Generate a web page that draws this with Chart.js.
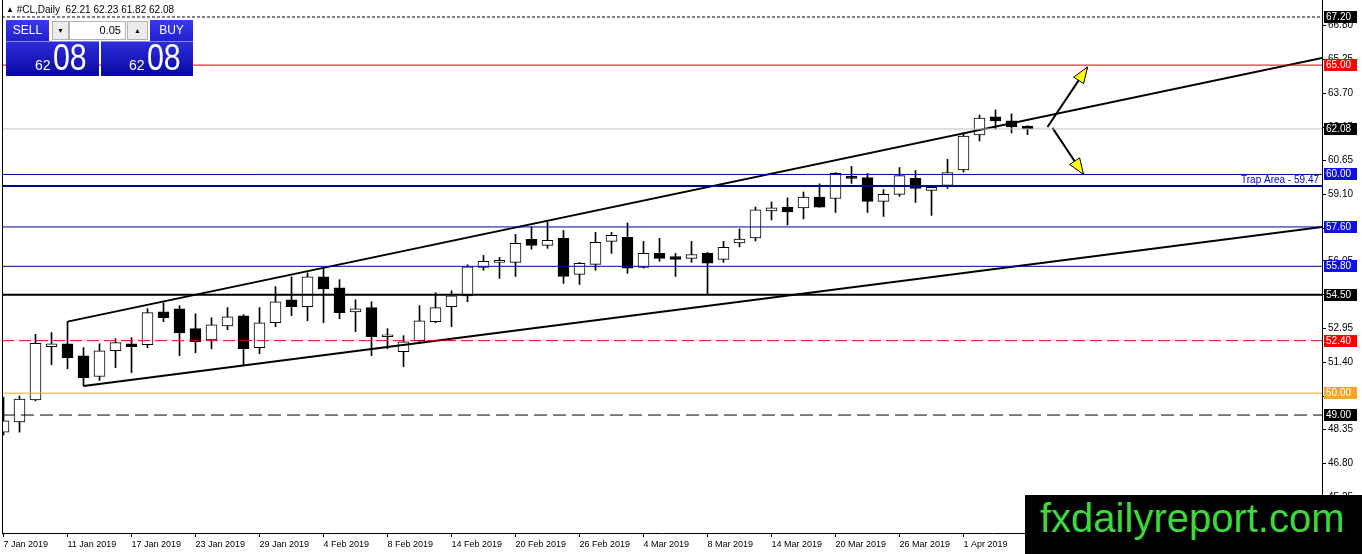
<!DOCTYPE html>
<html>
<head>
<meta charset="utf-8">
<script src="https://cdn.jsdelivr.net/npm/chart.js@4.4.1/dist/chart.umd.min.js"></script>
<style>
html, body { margin: 0; padding: 0; background: #fff; }
#wrap { position: relative; width: 1362px; height: 554px; overflow: hidden; font-family: "Liberation Sans", Arial, sans-serif; }
#chart { position: absolute; left: 0; top: 0; }
#title { position: absolute; left: 6px; top: 4px; font-size: 10px; color: #000; white-space: pre; }
#title span { font-size: 8px; vertical-align: 1px; }
.top { position: absolute; top: 20px; height: 21px; width: 43px; background: linear-gradient(#3a3aec, #2020d0); color: #fff; font-size: 12px; line-height: 20px; text-align: center; }
.big { position: absolute; top: 41px; height: 35px; background: linear-gradient(#2d2ddc, #0808a4); color: #fff; border-top: 1px solid #8a8af0; box-sizing: border-box; }
.big .s { position: absolute; bottom: 3px; font-size: 14px; }
.big .l { position: absolute; top: -5px; font-size: 37px; transform: scaleX(0.82); transform-origin: left top; }
.ctl { position: absolute; top: 21px; height: 19px; background: #ececec; border: 1px solid #b0b0b0; box-sizing: border-box; font-size: 7px; text-align: center; line-height: 17px; }
#lot { position: absolute; left: 69px; top: 21px; width: 57px; height: 19px; background: #fff; border: 1px solid #b0b0b0; box-sizing: border-box; font-size: 11px; text-align: right; padding-right: 4px; line-height: 17px; }
#mark { position: absolute; left: 1025px; top: 495px; width: 337px; height: 59px; background: #000; }
#mark div { position: absolute; left: 15px; top: 3px; font-size: 40px; line-height: 40px; color: #3cd83c; white-space: nowrap; }
</style>
</head>
<body>
<div id="wrap">
  <canvas id="chart" width="1362" height="554"></canvas>
  <div id="title"><span>▲</span> #CL,Daily  62.21 62.23 61.82 62.08</div>
  <div class="top" style="left:6px">SELL</div>
  <div class="ctl" style="left:52px;width:17px">▼</div>
  <div id="lot">0.05</div>
  <div class="ctl" style="left:127px;width:21px">▲</div>
  <div class="top" style="left:150px">BUY</div>
  <div class="big" style="left:6px;width:93px"><span class="s" style="left:29px">62</span><span class="l" style="left:47px">08</span></div>
  <div class="big" style="left:101px;width:92px"><span class="s" style="left:28px">62</span><span class="l" style="left:46px">08</span></div>
  <div id="mark"><div>fxdailyreport.com</div></div>
</div>
<script>
// daily candles, 7 Jan 2019 .. 5 Apr 2019
const open  = [48.22,48.68,49.69,52.13,52.26,51.71,50.76,51.94,52.26,52.22,
               53.72,53.86,52.95,52.44,53.08,53.54,52.08,53.22,54.27,53.95,
               55.32,54.82,53.72,53.91,52.58,51.90,52.40,53.27,53.95,54.45,
               55.75,55.98,55.98,57.03,56.76,57.08,55.43,55.89,56.94,57.12,
               55.75,56.39,56.25,56.16,56.39,56.12,56.87,57.10,58.33,58.51,
               58.47,58.97,58.90,59.91,59.86,58.77,59.09,59.82,59.27,59.50,
               60.21,61.81,62.63,62.45,62.21];
const high  = [49.82,49.87,52.69,52.77,53.27,52.08,52.26,52.49,52.54,53.86,
               54.13,54.00,53.63,53.45,53.91,53.59,53.91,54.87,55.32,55.50,
               55.73,55.19,54.27,54.18,52.95,52.63,54.00,54.59,54.68,55.87,
               56.30,56.21,57.26,57.60,57.83,57.44,55.98,57.35,57.35,57.78,
               56.94,57.08,56.39,56.94,56.44,56.94,57.51,58.51,58.74,58.93,
               59.20,59.57,60.09,60.37,60.05,59.31,60.32,60.18,59.43,60.69,
               61.90,62.72,62.95,62.77,62.23];
const low   = [48.09,48.22,49.65,51.30,51.12,50.33,50.58,51.17,50.94,52.08,
               53.27,51.71,51.85,52.03,52.90,51.26,51.80,53.04,53.54,53.31,
               53.22,53.40,52.81,51.71,52.03,51.21,52.26,53.22,53.04,54.18,
               55.62,55.25,55.34,56.58,56.62,55.02,54.97,55.62,56.39,55.48,
               55.72,56.03,55.34,55.98,54.55,55.98,56.69,56.96,57.92,57.69,
               57.97,58.50,58.26,59.59,58.26,58.08,59.00,58.72,58.13,59.36,
               60.11,61.53,62.08,61.90,61.82];
const close = [48.73,49.73,52.28,52.26,51.62,50.71,51.94,52.31,52.13,53.68,
               53.45,52.76,52.35,53.13,53.49,52.03,53.22,54.18,53.95,55.32,
               54.77,53.68,53.86,52.58,52.67,52.35,53.31,53.91,54.45,55.78,
               56.03,56.02,56.85,56.76,56.99,55.34,55.94,56.90,57.22,55.71,
               56.39,56.16,56.12,56.34,55.94,56.67,57.05,58.38,58.47,58.29,
               58.97,58.51,60.05,59.82,58.77,59.09,59.95,59.36,59.41,60.09,
               61.76,62.58,62.45,62.17,62.08];

const tickLabels = ['7 Jan 2019','11 Jan 2019','17 Jan 2019','23 Jan 2019','29 Jan 2019',
                    '4 Feb 2019','8 Feb 2019','14 Feb 2019','20 Feb 2019','26 Feb 2019',
                    '4 Mar 2019','8 Mar 2019','14 Mar 2019','20 Mar 2019','26 Mar 2019','1 Apr 2019'];
const tickStep = 4;
const yTicks = [45.25,46.80,48.35,49.85,51.40,52.95,54.50,56.05,57.55,59.10,60.65,62.15,63.70,65.25,66.80];

// horizontal levels and their look
const levels = [67.20, 65.00, 62.08, 60.00, 59.47, 57.60, 55.80, 54.50, 52.40, 50.00, 49.00];
const levelStyles = [
  { color: '#000',    width: 1, dash: [3, 2],  tag: '#000' },
  { color: '#dd0000', width: 1, dash: [],      tag: '#ff0000' },
  { color: '#c0c0c0', width: 1, dash: [],      tag: '#000' },
  { color: '#00009a', width: 1, dash: [],      tag: '#1010e6' },
  { color: '#00009a', width: 2, dash: [],      tag: null },
  { color: '#00009a', width: 1, dash: [],      tag: '#1010e6' },
  { color: '#00009a', width: 1, dash: [],      tag: '#1010e6' },
  { color: '#000',    width: 2, dash: [],      tag: '#000' },
  { color: '#dd0000', width: 1, dash: [12, 5], tag: '#ff0000' },
  { color: '#f0a030', width: 1, dash: [],      tag: '#f5a623' },
  { color: '#000',    width: 1, dash: [13, 6], tag: '#000' }
];
const trapLevel = 59.47;
const trapText = 'Trap Area - 59.47';

// channel and arrows as [bar, price] points
const channelUpper = [[4, 53.27], [82.41, 65.33]];
const channelLower = [[5, 50.33], [82.41, 57.60]];
const arrowUp   = [[65.25, 62.17], [67.75, 64.91]];
const arrowDown = [[65.56, 62.13], [67.50, 60.00]];

const xMin = -0.094, xMax = 82.406;
const yMin = 43.606, yMax = 67.977;

const fontY = { family: 'Liberation Sans', size: 10 };
const fontX = { family: 'Liberation Sans', size: 9 };
const pts = arr => arr.map(p => ({ x: p[0], y: p[1] }));
const noPad = s => { s.paddingTop = 0; s.paddingBottom = 0; s.paddingLeft = 0; s.paddingRight = 0; };

const lineSets = levels.map((v, k) => ({
  type: 'line',
  data: [{ x: xMin, y: v }, { x: xMax, y: v }],
  borderColor: levelStyles[k].color,
  borderWidth: levelStyles[k].width,
  borderDash: levelStyles[k].dash,
  pointRadius: 0, fill: false, order: 0
}));
[channelUpper, channelLower].forEach(c => lineSets.push({
  type: 'line', data: pts(c), borderColor: '#000', borderWidth: 2,
  pointRadius: 0, fill: false, order: 0
}));
[arrowUp, arrowDown].forEach(a => lineSets.push({
  type: 'line', data: pts(a), borderColor: '#000', borderWidth: 2,
  pointRadius: 0, fill: false, order: 0, arrow: true
}));

const bodies = {
  type: 'bar',
  data: open.map((o, i) => ({ x: i, y: [o, close[i]] })),
  backgroundColor: open.map((o, i) => close[i] < o ? '#000' : '#fff'),
  borderColor: '#000', borderWidth: 1, borderSkipped: false,
  barThickness: 11, minBarLength: 2, grouped: false, order: 1
};
const wicks = {
  type: 'bar',
  data: high.map((h, i) => ({ x: i, y: [low[i], h] })),
  backgroundColor: '#000', borderWidth: 0,
  barThickness: 1, grouped: false, order: 2
};

const overlay = {
  id: 'overlay',
  afterDraw(chart) {
    const ctx = chart.ctx, ys = chart.scales.y, a = chart.chartArea;
    ctx.save();
    ctx.strokeStyle = '#000'; ctx.lineWidth = 1;
    ctx.beginPath(); ctx.moveTo(a.left + 0.5, a.top); ctx.lineTo(a.left + 0.5, a.bottom); ctx.stroke();

    // arrow heads
    chart.data.datasets.forEach((ds, i) => {
      if (!ds.arrow) return;
      const d = chart.getDatasetMeta(i).data;
      const p0 = d[d.length - 2], p1 = d[d.length - 1];
      const ang = Math.atan2(p1.y - p0.y, p1.x - p0.x);
      const len = 16, hw = 6;
      const bx = p1.x - len * Math.cos(ang), by = p1.y - len * Math.sin(ang);
      ctx.beginPath();
      ctx.moveTo(p1.x, p1.y);
      ctx.lineTo(bx + hw * Math.sin(ang), by - hw * Math.cos(ang));
      ctx.lineTo(bx - hw * Math.sin(ang), by + hw * Math.cos(ang));
      ctx.closePath();
      ctx.fillStyle = '#ffff00'; ctx.fill();
      ctx.lineWidth = 1; ctx.strokeStyle = '#000'; ctx.stroke();
    });

    ctx.font = '10px "Liberation Sans"';
    ctx.fillStyle = '#0000c0'; ctx.textAlign = 'right'; ctx.textBaseline = 'bottom';
    ctx.fillText(trapText, a.right - 3, ys.getPixelForValue(trapLevel) - 1);

    ctx.textAlign = 'left'; ctx.textBaseline = 'middle';
    levels.forEach((v, k) => {
      const s = levelStyles[k];
      if (!s.tag) return;
      const py = Math.round(ys.getPixelForValue(v));
      ctx.fillStyle = s.tag;
      ctx.fillRect(a.right + 2, py - 6, 33, 12);
      ctx.fillStyle = '#fff';
      ctx.fillText(v.toFixed(2), a.right + 4, py + 0.5);
    });
    ctx.restore();
  }
};

new Chart(document.getElementById('chart'), {
  type: 'bar',
  data: { datasets: [...lineSets, bodies, wicks] },
  options: {
    responsive: false,
    devicePixelRatio: 1,
    animation: false,
    layout: { padding: { left: 2, top: 0, right: 0, bottom: 0 } },
    plugins: { legend: { display: false }, tooltip: { enabled: false } },
    scales: {
      x: {
        type: 'linear', min: xMin, max: xMax, offset: false,
        afterBuildTicks: s => { s.ticks = tickLabels.map((_, k) => ({ value: k * tickStep })); },
        afterFit: s => { s.height = 21; noPad(s); },
        ticks: { autoSkip: false, maxRotation: 0, align: 'start', padding: 2, color: '#000', font: fontX,
                 callback: (v, i) => tickLabels[i] },
        grid: { drawOnChartArea: false, offset: false, tickLength: 4, color: '#000' },
        border: { color: '#000' }
      },
      y: {
        type: 'linear', position: 'right', min: yMin, max: yMax,
        afterBuildTicks: s => { s.ticks = yTicks.map(v => ({ value: v })); },
        afterFit: s => { s.width = 40; noPad(s); },
        ticks: { padding: 2, color: '#000', font: fontY, callback: v => v.toFixed(2) },
        grid: { drawOnChartArea: false, tickLength: 4, color: '#000' },
        border: { color: '#000' }
      }
    }
  },
  plugins: [overlay]
});
</script>
</body>
</html>
